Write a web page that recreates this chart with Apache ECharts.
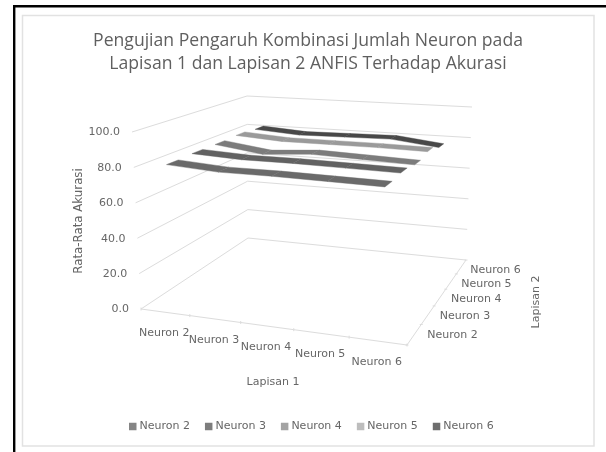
<!DOCTYPE html>
<html><head><meta charset="utf-8">
<style>html,body{margin:0;padding:0;background:#fff}#c{width:606px;height:452px;filter:blur(0.6px)}</style>
<script src="https://cdn.jsdelivr.net/npm/echarts@6/dist/echarts.min.js"></script>
</head><body><div id="c"></div>
<script>
var titleLines = ['Pengujian Pengaruh Kombinasi Jumlah Neuron pada', 'Lapisan 1 dan Lapisan 2 ANFIS Terhadap Akurasi'];
var lapisan1 = ['Neuron 2', 'Neuron 3', 'Neuron 4', 'Neuron 5', 'Neuron 6'];
var lapisan2 = ['Neuron 2', 'Neuron 3', 'Neuron 4', 'Neuron 5', 'Neuron 6'];
var valueTicks = [0, 20, 40, 60, 80, 100];
var valueTickLabels = ['0.0', '20.0', '40.0', '60.0', '80.0', '100.0'];
var neuron2 = [81, 79, 79, 78.5, 78];
var neuron3 = [81.5, 80, 80, 79.5, 79];
var neuron4 = [81.5, 77.5, 79.5, 78.5, 77.5];
var neuron5 = [82, 80, 80, 80, 79.5];
var neuron6 = [81, 79, 79.5, 80, 76.5];
var seriesNames = ['Neuron 2', 'Neuron 3', 'Neuron 4', 'Neuron 5', 'Neuron 6'];
var seriesValues = [neuron2, neuron3, neuron4, neuron5, neuron6];
var ribbonColors = ['#6a6a6a', '#626262', '#7c7c7c', '#9a9a9a', '#484848'];
var legendColors = ['#858585', '#7d7d7d', '#a3a3a3', '#bdbdbd', '#6e6e6e'];

var GRID = '#dcdcdc', TEXT = '#666666';
var FONT = '11px "DejaVu Sans"';

function squareToQuad(q) {
  var x0=q[0][0],y0=q[0][1],x1=q[1][0],y1=q[1][1],x2=q[2][0],y2=q[2][1],x3=q[3][0],y3=q[3][1];
  var dx1=x1-x2,dx2=x3-x2,sx=x0-x1+x2-x3,dy1=y1-y2,dy2=y3-y2,sy=y0-y1+y2-y3;
  var den=dx1*dy2-dx2*dy1, g=(sx*dy2-dx2*sy)/den, h=(dx1*sy-sx*dy1)/den;
  var a=x1-x0+g*x1,b=x3-x0+h*x3,d=y1-y0+g*y1,e=y3-y0+h*y3;
  return function(u,v){var w=g*u+h*v+1;return [(a*u+b*v+x0)/w,(d*u+e*v+y0)/w];};
}
var floorAt = squareToQuad([[141,309],[407,345],[466,260],[248,238]]);
var topAt = squareToQuad([[132,132],[411.5,150],[472,107],[247,96]]);
function project(u, v, val) {
  var w = echarts.number.linearMap(val, [0, 100], [0, 1]);
  var a = floorAt(u, v), b = topAt(u, v);
  return [a[0] + (b[0]-a[0])*w, a[1] + (b[1]-a[1])*w];
}
function line(p, q, lw) {
  return {type:'line', silent:true, shape:{x1:p[0],y1:p[1],x2:q[0],y2:q[1]}, style:{stroke:GRID,lineWidth:lw||1,fill:null}};
}
function text(s, x, y, align, rot, font) {
  var el = {type:'text', silent:true, x:x, y:y, rotation:rot||0,
    style:{text:s, fill:TEXT, font:font||FONT, align:align||'center', verticalAlign:'middle'}};
  return el;
}

var series = [];
// walls and value labels
series.push({type:'custom', coordinateSystem:'none', silent:true, z:1,
  data: valueTicks.map(function(t,i){return [t,i];}),
  renderItem:function(params, api){
    var val=api.value(0), i=api.value(1);
    var a=project(0,0,val), d=project(0,1,val), c=project(1,1,val);
    return {type:'group', children:[line(a,d), line(d,c),
      text(valueTickLabels[i], a[0]-12, a[1]+0.5, 'right')]};
  }});
// floor front edge, ticks and labels
series.push({type:'custom', coordinateSystem:'none', silent:true, z:1,
  data: lapisan1.map(function(c,i){return [i];}).concat([[lapisan1.length]]),
  renderItem:function(params, api){
    var i=api.value(0), n=lapisan1.length;
    var p=project(i/n,0,0), kids=[line([p[0],p[1]-1.5],[p[0],p[1]+1.5])];
    if(i<n){
      var q=project((i+1)/n,0,0), m=project((i+.5)/n,0,0);
      kids.push(line(p,q));
      kids.push(text(lapisan1[i], m[0]-1, m[1]+21));
    }
    return {type:'group', children:kids};
  }});
// floor right edge, ticks and labels
series.push({type:'custom', coordinateSystem:'none', silent:true, z:1,
  data: lapisan2.map(function(c,i){return [i];}).concat([[lapisan2.length]]),
  renderItem:function(params, api){
    var i=api.value(0), n=lapisan2.length;
    var p=project(1,i/n,0), kids=[line([p[0]-1.5,p[1]],[p[0]+1.5,p[1]])];
    if(i<n){
      var q=project(1,(i+1)/n,0), m=project(1,(i+.5)/n,0);
      kids.push(line(p,q));
      kids.push(text(lapisan2[i], m[0]+13-i, m[1]+1+i/2, 'left'));
    }
    return {type:'group', children:kids};
  }});
// axis names
var axisNames = [['Lapisan 1',273,382.5,0,FONT],['Lapisan 2',536,302,Math.PI/2,FONT],['Rata-Rata Akurasi',79,221,Math.PI/2,'11.8px "DejaVu Sans"']];
series.push({type:'custom', coordinateSystem:'none', silent:true, z:1,
  data: axisNames.map(function(a,i){return [i];}),
  renderItem:function(params, api){
    var a=axisNames[api.value(0)];
    return text(a[0],a[1],a[2],'center',a[3],a[4]);
  }});
// ribbons, back to front
var HALF = 0.045;
for (var s = seriesValues.length-1; s >= 0; s--) (function(s){
  var vals = seriesValues[s];
  series.push({name:seriesNames[s], type:'custom', coordinateSystem:'none', silent:true, z:5+(5-s),
    itemStyle:{color:legendColors[s]},
    data: vals.map(function(v,i){return [i,v];}),
    renderItem:function(params, api){
      var i=api.value(0);
      if(i>=vals.length-1) return null;
      var n=lapisan1.length, m=lapisan2.length;
      var u0=(i+.5)/n, u1=(i+1.5)/n, vc=(s+.5)/m;
      var v0=vals[i], v1=vals[i+1];
      return {type:'polygon', silent:true, shape:{points:[
        project(u0,vc-HALF,v0),project(u1,vc-HALF,v1),project(u1,vc+HALF,v1),project(u0,vc+HALF,v0)]},
        style:{fill:ribbonColors[s],stroke:ribbonColors[s],lineWidth:0.4}};
    }});
})(s);

var chart = echarts.init(document.getElementById('c'), null, {renderer:'canvas', width:606, height:452});
chart.setOption({
  animation:false, backgroundColor:'#fff',
  title:{text:titleLines.join('\n'), left:303, textAlign:'center', top:24,
    textStyle:{fontFamily:'"Open Sans"', fontSize:17.6, fontWeight:'normal', color:'#5f5f5f', lineHeight:23.5}},
  legend:{left:124, top:416, itemWidth:7.5, itemHeight:7.5, itemGap:15, icon:'rect', selectedMode:false,
    textStyle:{fontFamily:'"DejaVu Sans"', fontSize:11, color:TEXT, padding:[0,0,0,-2]},
    data: seriesNames.map(function(n,i){return {name:n, itemStyle:{color:legendColors[i]}};})},
  graphic:[
    {type:'rect', silent:true, z:-1, shape:{x:22.5,y:15.5,width:571.5,height:430.5}, style:{fill:'#fff',stroke:'#e2e2e2',lineWidth:1.5}},
    {type:'line', silent:true, shape:{x1:14.2,y1:5,x2:14.2,y2:452}, style:{stroke:'#000',lineWidth:2.4}},
    {type:'line', silent:true, shape:{x1:13,y1:6.2,x2:606,y2:6.2}, style:{stroke:'#000',lineWidth:2.4}}
  ],
  series:series
});
</script></body></html>
